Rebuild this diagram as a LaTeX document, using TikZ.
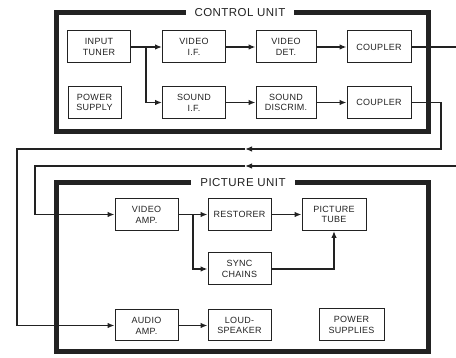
\documentclass[tikz,border=0pt]{standalone}
\usepackage{fontspec}
\setmainfont{Liberation Sans}
\newfontfamily\boxfont[LetterSpace=3]{Liberation Sans}
\newfontfamily\unitfont[LetterSpace=4]{Liberation Sans}
\usetikzlibrary{positioning,calc,arrows.meta}
\definecolor{ink}{HTML}{222222}

\begin{document}
\begin{tikzpicture}[x=1pt,y=-1pt,
    block/.style={rectangle,draw=ink,line width=1pt,minimum width=63pt,minimum height=32pt,align=center,inner sep=1pt,font=\boxfont\fontsize{9}{10.8}\selectfont,text=ink},
    unit/.style={draw=ink,line width=5pt},
    title/.style={fill=white,inner xsep=9pt,inner ysep=1pt,font=\unitfont\fontsize{11.5}{12}\selectfont,text=ink},
    arrow/.style={-{Latex[length=7pt,width=5.5pt]},line width=1.3pt,draw=ink},
    wire/.style={line width=1.3pt,draw=ink}
    ]

    \useasboundingbox (0,0) rectangle (456,358);

    % control unit
    \draw[unit] (56,12.5) rectangle (428,132);
    \node[title] (ctrl) at (240,12.5) {CONTROL UNIT};

    \node[block] (tuner) at (99,47) {INPUT\\TUNER};
    \node[block,minimum width=53pt] (supply) at (94.5,102.5) {POWER\\SUPPLY};
    \node[block] (vif) at (194,47) {VIDEO\\I.F.};
    \node[block] (sif) at (194,102.5) {SOUND\\I.F.};
    \node[block,minimum width=60pt] (vdet) at (286,47) {VIDEO\\DET.};
    \node[block,minimum width=60pt] (sdis) at (286,102.5) {SOUND\\DISCRIM.};
    \node[block,minimum width=64pt] (vcoup) at (379,47) {COUPLER};
    \node[block,minimum width=64pt] (scoup) at (379,102.5) {COUPLER};

    \coordinate (split) at (146,47);
    \draw[wire] (tuner) -- (split);
    \draw[arrow] (split) -- (vif);
    \draw[arrow] (split) |- (sif);
    \draw[arrow] (vif) -- (vdet);
    \draw[arrow] (sif) -- (sdis);
    \draw[arrow] (vdet) -- (vcoup);
    \draw[arrow] (sdis) -- (scoup);

    % picture unit
    \draw[unit] (56,183) rectangle (428.5,352);
    \node[title] (pict) at (243,183) {PICTURE UNIT};

    \node[block] (vamp) at (146.5,214.5) {VIDEO\\AMP.};
    \node[block] (rest) at (239.5,214.5) {RESTORER};
    \node[block,minimum width=64pt] (tube) at (334,214.5) {PICTURE\\TUBE};
    \node[block] (sync) at (239.5,269) {SYNC\\CHAINS};
    \node[block,minimum height=31pt] (aamp) at (146.5,325.5) {AUDIO\\AMP.};
    \node[block,minimum height=31pt] (spkr) at (239.5,325.5) {LOUD-\\SPEAKER};
    \node[block,minimum width=65pt] (psupp) at (351.5,325) {POWER\\SUPPLIES};

    \coordinate (vsplit) at (193,214.5);
    \draw[wire] (vamp) -- (vsplit);
    \draw[arrow] (vsplit) -- (rest);
    \draw[arrow] (vsplit) |- (sync);
    \draw[arrow] (rest) -- (tube);
    \draw[arrow] (sync.east) -| (tube.south);
    \draw[arrow] (aamp) -- (spkr);

    % cables between the units
    \coordinate (vout) at (456,47);
    \coordinate (vin) at (456,166);
    \coordinate (vmid) at (245,166);
    \coordinate (vleft) at (35,166);
    \draw[wire] (vcoup) -- (vout);
    \draw[arrow] (vin) -- (vmid);
    \draw[arrow] (vmid) -- (vleft) |- (vamp);

    \coordinate (sdrop) at (441,149);
    \coordinate (smid) at (245,149);
    \coordinate (sleft) at (17,149);
    \draw[arrow] (scoup) -| (sdrop) -- (smid);
    \draw[arrow] (smid) -- (sleft) |- (aamp);

  \end{tikzpicture}
\end{document}
